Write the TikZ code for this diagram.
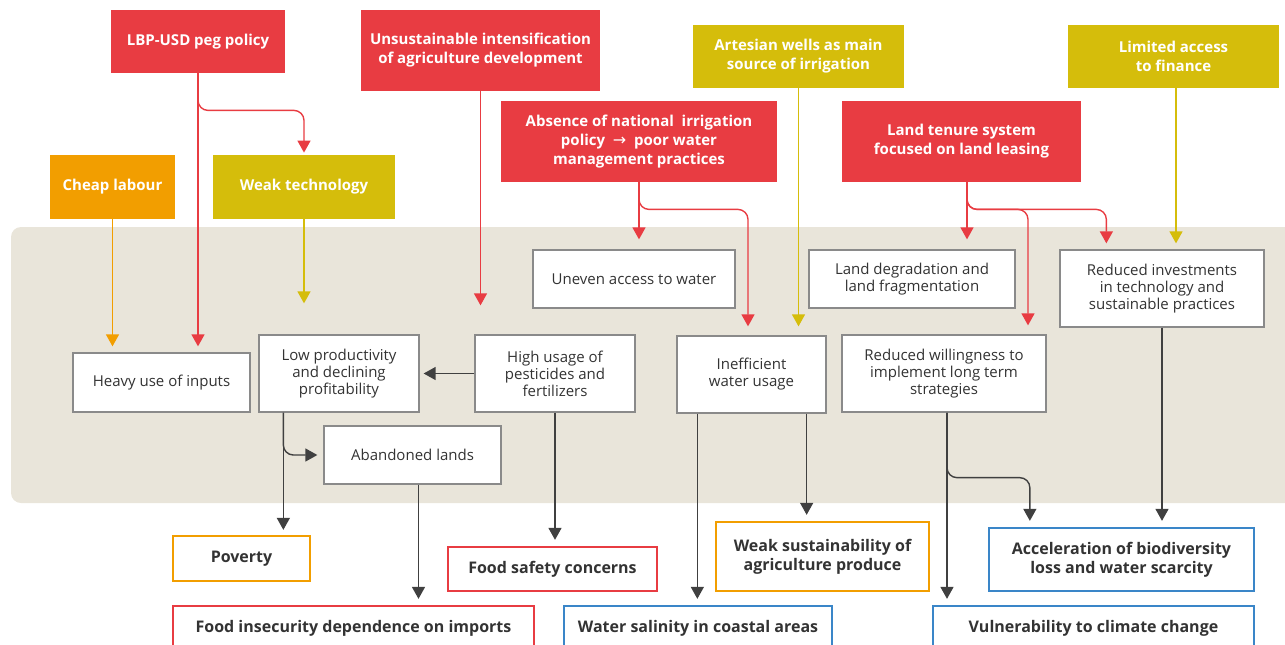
\documentclass[tikz,border=0pt]{standalone}
\usepackage{fontspec}
\setmainfont{Open Sans}
\newfontfamily\symfont{DejaVu Sans}
\usetikzlibrary{arrows.meta, calc}
\definecolor{cause-red}{RGB}{232,60,66}
\definecolor{cause-orange}{RGB}{242,158,0}
\definecolor{cause-olive}{RGB}{213,189,11}
\definecolor{effect-blue}{RGB}{58,134,200}
\definecolor{panel-beige}{RGB}{233,229,218}
\definecolor{box-gray}{RGB}{138,138,138}
\definecolor{arrow-dark}{RGB}{64,64,64}
\definecolor{text-dark}{RGB}{51,51,51}
\tikzset{boxsize/.style 2 args={minimum width=#1*0.5pt, minimum height=#2*0.5pt}}

\begin{document}
\begin{tikzpicture}[
  x=0.5pt, y=-0.5pt,
  >={Triangle[width=6.5pt,length=6pt]},
  % Box styles
  causebox/.style  = {text=white, inner sep=0pt, align=center,
                      font=\fontsize{7.5}{9.5}\selectfont\bfseries},
  redbox/.style    = {causebox, fill=cause-red},
  orangebox/.style = {causebox, fill=cause-orange},
  olivebox/.style  = {causebox, fill=cause-olive},
  midbox/.style    = {draw=box-gray, fill=white, line width=0.65pt, inner sep=0pt,
                      align=center, text=text-dark, font=\fontsize{7.5}{8.5}\selectfont},
  outbox/.style    = {fill=white, line width=1.15pt, inner sep=0pt, align=center,
                      text=text-dark, font=\fontsize{8}{9.5}\selectfont\bfseries},
  % Arrow styles
  redarrow/.style    = {->, line width=0.7pt, cause-red, shorten >=3pt},
  orangearrow/.style = {->, line width=0.7pt, cause-orange, shorten >=3pt},
  olivearrow/.style  = {->, line width=0.7pt, cause-olive, shorten >=3pt},
  darkarrow/.style   = {->, line width=0.7pt, arrow-dark, shorten >=3pt},
]
\useasboundingbox (0,0) rectangle (1285,644);
\clip (0,0) rectangle (1285,644);

% ── Panel ──────────────────────────────────────────────────────────────────────
\fill[panel-beige, rounded corners=5pt] (11,227) rectangle (1310,503);

% ── Causes (top) ───────────────────────────────────────────────────────────────
\node[redbox, boxsize={174}{63}] (lbp) at (198, 41.5) {LBP-USD peg policy};
\node[redbox, boxsize={239}{81}] (unsus) at (480.5, 50.5)
  {Unsustainable intensification\\of agriculture development};
\node[orangebox, boxsize={125}{64}] (cheap) at (112.5, 187) {Cheap labour};
\node[olivebox, boxsize={182}{64}] (weaktech) at (304, 187) {Weak technology};
\node[redbox, boxsize={276}{81}] (absence) at (639, 141.5)
  {Absence of national\ \ irrigation\\policy\ \ {\symfont\mdseries\footnotesize →}\ \ poor water\\management practices};
\node[olivebox, boxsize={211}{63}] (artesian) at (798.5, 56.5)
  {Artesian wells as main\\source of irrigation};
\node[redbox, boxsize={239}{81}] (tenure) at (961.5, 141.5)
  {Land tenure system\\focused on land leasing};
\node[olivebox, boxsize={211}{63}] (finance) at (1173.5, 56.5)
  {Limited access\\to finance};

% ── Mechanisms (panel) ─────────────────────────────────────────────────────────
\node[midbox, boxsize={177}{59}] (heavy) at (161.5, 382.5) {Heavy use of inputs};
\node[midbox, boxsize={160}{77}] (lowprod) at (339, 373.5)
  {Low productivity\\and declining\\profitability};
\node[midbox, boxsize={177}{58}] (aband) at (412.5, 455) {Abandoned lands};
\node[midbox, boxsize={160}{77}] (pest) at (555, 373.5)
  {High usage of\\pesticides and\\fertilizers};
\node[midbox, boxsize={202}{58}] (uneven) at (634, 279) {Uneven access to water};
\node[midbox, boxsize={149}{77}] (ineff) at (751.5, 374.5) {Inefficient\\water usage};
\node[midbox, boxsize={206}{58}] (landdeg) at (912, 279)
  {Land degradation and\\land fragmentation};
\node[midbox, boxsize={204}{77}] (willing) at (944, 373.5)
  {Reduced willingness to\\implement long term\\strategies};
\node[midbox, boxsize={204}{77}] (invest) at (1162, 288.5)
  {Reduced investments\\in technology and\\sustainable practices};

% ── Effects (bottom) ───────────────────────────────────────────────────────────
\node[outbox, draw=cause-orange, boxsize={137}{45}] (poverty) at (241.5, 558.5) {Poverty};
\node[outbox, draw=cause-red, boxsize={361}{45}] (foodins) at (353.5, 628.5)
  {Food insecurity dependence on imports};
\node[outbox, draw=cause-red, boxsize={209}{44}] (foodsafe) at (552.5, 569)
  {Food safety concerns};
\node[outbox, draw=effect-blue, boxsize={268}{45}] (salinity) at (698, 628.5)
  {Water salinity in coastal areas};
\node[outbox, draw=cause-orange, boxsize={213}{69}] (weaksus) at (822.5, 556.5)
  {Weak sustainability of\\agriculture produce};
\node[outbox, draw=effect-blue, boxsize={265}{63}] (accel) at (1121.5, 559.5)
  {Acceleration of biodiversity\\loss and water scarcity};
\node[outbox, draw=effect-blue, boxsize={321}{45}] (vulner) at (1093.5, 628.5)
  {Vulnerability to climate change};

% ── Helper points ──────────────────────────────────────────────────────────────
\coordinate (lbp-turn) at ($(lbp.south)+(0,37)$);
\coordinate (abs-turn) at ($(absence.south)+(0,27)$);
\coordinate (ineff-in) at ($(ineff.north)+(-3.5,0)$);
\coordinate (ten-out)  at ($(tenure.south)+(5.5,0)$);
\coordinate (ten-turn) at ($(ten-out)+(0,27)$);
\coordinate (wl-in)    at ($(willing.north)+(84,0)$);
\coordinate (inv-in)   at ($(invest.north west)+(47,0)$);
\coordinate (fin-out)  at ($(finance.south)+(2.5,0)$);
\coordinate (lp-out)   at ($(lowprod.south west)+(25,0)$);
\coordinate (ab-out)   at ($(aband.south)+(6,0)$);
\coordinate (if-out1)  at ($(ineff.south west)+(21,0)$);
\coordinate (if-out2)  at ($(ineff.south east)+(-20,0)$);
\coordinate (wl-out)   at ($(willing.south)+(3,0)$);
\coordinate (wl-turn)  at ($(wl-out)+(0,65)$);
\coordinate (acc-in)   at ($(accel.north west)+(42,0)$);

% ── Arrows into the panel ──────────────────────────────────────────────────────
\draw[orangearrow] (cheap.south) -- (cheap.south |- heavy.north);
\draw[redarrow] (lbp.south) -- (lbp.south |- heavy.north);
\draw[redarrow, rounded corners=5pt, shorten >=1pt] (lbp.south) -- (lbp-turn) -| (weaktech.north);
\draw[olivearrow, shorten >=15.5pt] (weaktech.south) -- (weaktech.south |- lowprod.north);
\draw[redarrow, shorten >=14.5pt] (unsus.south) -- (unsus.south |- pest.north);
\draw[redarrow, shorten >=5pt] (absence.south) -- (absence.south |- uneven.north);
\draw[redarrow, rounded corners=5pt, shorten >=4.5pt] (absence.south) -- (abs-turn) -| (ineff-in);
\draw[olivearrow, shorten >=4.5pt] (artesian.south) -- (artesian.south |- ineff.north);
\draw[redarrow, shorten >=5pt] (ten-out) -- (ten-out |- landdeg.north);
\draw[redarrow, rounded corners=5pt, shorten >=4.5pt] (ten-out) -- (ten-turn) -| (wl-in);
\draw[redarrow, rounded corners=5pt] (ten-out) -- (ten-turn) -| (inv-in);
\draw[olivearrow] (fin-out) -- (fin-out |- invest.north);

% ── Arrows inside and out of the panel ────────────────────────────────────────
\draw[darkarrow, shorten >=2pt] (pest.west) -- (lowprod.east);
\draw[darkarrow, shorten >=2.5pt] (lp-out) -- (lp-out |- poverty.north);
\draw[darkarrow, rounded corners=5pt] (lp-out) |- (aband.west);
\draw[darkarrow] (ab-out) -- (ab-out |- foodins.north);
\draw[darkarrow] (pest.south) -- (pest.south |- foodsafe.north);
\draw[darkarrow] (if-out1) -- (if-out1 |- salinity.north);
\draw[darkarrow] (if-out2) -- (if-out2 |- weaksus.north);
\draw[darkarrow] (wl-out) -- (wl-out |- vulner.north);
\draw[darkarrow, rounded corners=5pt] (wl-out) -- (wl-turn) -| (acc-in);
\draw[darkarrow] (invest.south) -- (invest.south |- accel.north);

\end{tikzpicture}
\end{document}
